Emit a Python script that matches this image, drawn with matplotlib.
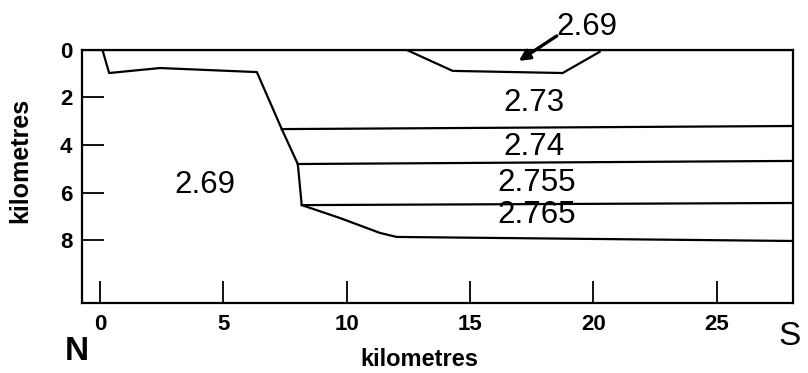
import matplotlib
matplotlib.use("Agg")
import matplotlib.pyplot as plt

plt.rcParams['font.family'] = ['Liberation Sans', 'DejaVu Sans']

# layer boundaries (km along profile, km depth)
base_x = [0.1, 0.37, 2.43, 6.36, 7.37, 8.02, 8.18, 9.72, 11.35, 12.03, 28.1]
base_y = [0.0, 0.97, 0.76, 0.93, 3.33, 4.80, 6.53, 7.07, 7.70, 7.87, 8.04]

channel_x = [12.44, 14.3, 18.76, 20.26]
channel_y = [0.0, 0.88, 0.97, 0.08]

b273_x = [7.37, 28.1]
b273_y = [3.33, 3.20]
b274_x = [8.02, 28.1]
b274_y = [4.80, 4.67]
b2755_x = [8.18, 28.1]
b2755_y = [6.53, 6.44]

# density labels
dens_labels = ['2.69', '2.73', '2.74', '2.755', '2.765']
dens_x = [4.25, 17.6, 17.6, 17.7, 17.7]
dens_y = [5.68, 2.23, 4.08, 5.60, 6.95]

xticks = [0, 5, 10, 15, 20, 25]
yticks = [0, 2, 4, 6, 8]

fig = plt.figure(figsize=(8.08, 3.73), dpi=100)
ax = fig.add_axes([0.1015, 0.1877, 0.8799, 0.6783])

lw = 1.6
ax.plot([-0.73, 28.1], [0, 0], color='black', lw=lw)
ax.plot(base_x, base_y, color='black', lw=lw)
ax.plot(channel_x, channel_y, color='black', lw=lw)
ax.plot(b273_x, b273_y, color='black', lw=lw)
ax.plot(b274_x, b274_y, color='black', lw=lw)
ax.plot(b2755_x, b2755_y, color='black', lw=lw)

for t, x, y in zip(dens_labels, dens_x, dens_y):
    ax.text(x, y, t, fontsize=22.5, ha='center', va='center')

# small 2.69 body in the channel
ax.text(19.73, -0.97, '2.69', fontsize=22.5, ha='center', va='center', clip_on=False)
ax.annotate('', xy=(16.98, 0.46), xytext=(18.52, -0.59), annotation_clip=False,
            arrowprops=dict(arrowstyle='-|>', color='black', lw=2.4,
                            shrinkA=0, shrinkB=0, mutation_scale=16))

ax.set_xlim(-0.73, 28.1)
ax.set_ylim(10.65, 0)
ax.set_xticks(xticks)
ax.set_yticks(yticks)
ax.tick_params(direction='in', length=16, width=1.3, labelsize=16, color='black')
ax.tick_params(axis='x', pad=8)
ax.tick_params(axis='y', pad=7)
for lab in ax.get_xticklabels() + ax.get_yticklabels():
    lab.set_fontweight('bold')
ticks = ax.xaxis.get_major_ticks()
ticks[0].tick1line.set_color('0.7')
ticks[5].tick1line.set_color('0.6')

for sp in ax.spines.values():
    sp.set_linewidth(1.6)

ax.set_xlabel('kilometres', fontsize=17, fontweight='bold', va='center')
ax.xaxis.set_label_coords(0.475, -0.225)
ax.set_ylabel('kilometres', fontsize=18, fontweight='bold', va='center')
ax.yaxis.set_label_coords(-0.087, 0.565)

fig.text(0.095, 0.057, 'N', fontsize=24, fontweight='bold', ha='center', va='center')
fig.text(0.977, 0.098, 'S', fontsize=24, ha='center', va='center')

fig.savefig('out.png', dpi=100)
